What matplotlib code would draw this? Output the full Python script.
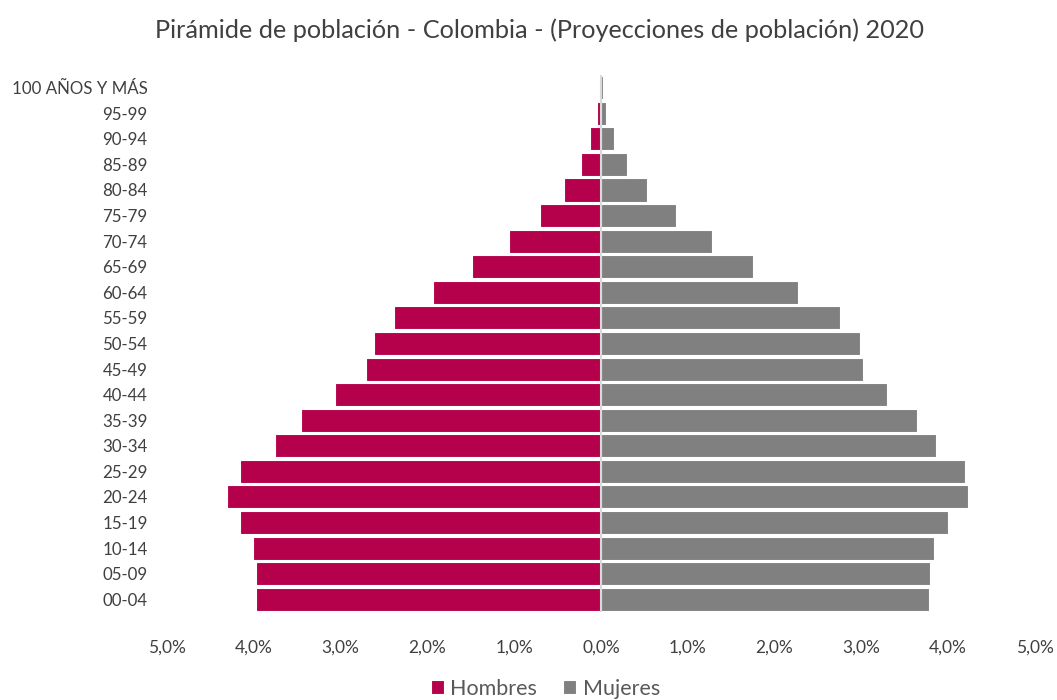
import matplotlib
matplotlib.use("Agg")
import matplotlib.pyplot as plt
import numpy as np

categories = ["00-04", "05-09", "10-14", "15-19", "20-24", "25-29", "30-34", "35-39",
              "40-44", "45-49", "50-54", "55-59", "60-64", "65-69", "70-74", "75-79",
              "80-84", "85-89", "90-94", "95-99", "100 AÑOS Y MÁS"]
hombres = [3.97, 3.97, 4.01, 4.16, 4.31, 4.16, 3.76, 3.46, 3.06, 2.71, 2.62, 2.38,
           1.94, 1.49, 1.06, 0.70, 0.43, 0.23, 0.12, 0.05, 0.01]
mujeres = [3.78, 3.79, 3.84, 4.00, 4.23, 4.19, 3.86, 3.64, 3.30, 3.02, 2.98, 2.75,
           2.27, 1.75, 1.28, 0.87, 0.53, 0.30, 0.15, 0.06, 0.02]
xticks = [-5, -4, -3, -2, -1, 0, 1, 2, 3, 4, 5]

plt.rcParams['font.family'] = ['Lato', 'DejaVu Sans']

fig = plt.figure(figsize=(10.57, 7.0), dpi=100)
ax = fig.add_axes([0.158, 0.1257, 0.821, 0.7673])

y = np.arange(len(categories))
ax.barh(y, [-h for h in hombres], height=0.9, color="#B5004B", edgecolor="white",
        linewidth=0.8, label="Hombres", zorder=2)
ax.barh(y, mujeres, height=0.9, color="#808080", edgecolor="white",
        linewidth=0.8, label="Mujeres", zorder=2)
ax.axvline(0, color="#d9d9d9", linewidth=1.5, zorder=3)

ax.set_xlim(-5, 5)
ax.set_ylim(-0.5, len(categories) - 0.5)
ax.set_yticks(y)
ax.set_yticklabels(categories, fontsize=12.2, color="#404040")
ax.set_xticks(xticks)
ax.set_xticklabels([f"{abs(v):.1f}%".replace(".", ",") for v in xticks],
                   fontsize=12.5, color="#404040")
ax.tick_params(axis='y', length=0, pad=14)
ax.tick_params(axis='x', length=0, pad=20)
for s in ax.spines.values():
    s.set_visible(False)

fig.text(0.51, 0.957, "Pirámide de población - Colombia - (Proyecciones de población) 2020",
         ha="center", va="center", fontsize=18.2, color="#404040")

leg = fig.legend(loc="center", bbox_to_anchor=(0.516, 0.016), ncol=2, frameon=False,
                 fontsize=15.5, handlelength=0.6, handleheight=0.6, handletextpad=0.3,
                 columnspacing=1.2)
for t in leg.get_texts():
    t.set_color("#595959")

fig.savefig("out.png", dpi=100)
